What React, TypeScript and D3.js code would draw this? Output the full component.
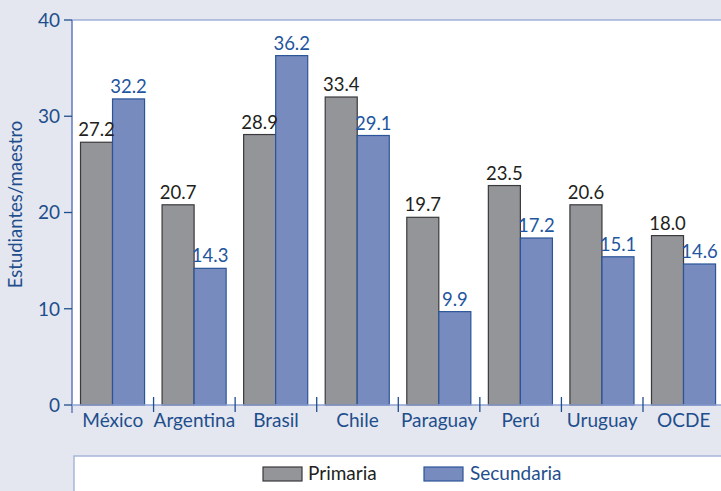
import React from "react";
import { scaleBand, scaleLinear } from "d3";

const categories = ["México", "Argentina", "Brasil", "Chile", "Paraguay", "Perú", "Uruguay", "OCDE"];
// bar heights as drawn in the picture
const primaria = [27.3, 20.8, 28.1, 32.0, 19.5, 22.8, 20.8, 17.6];
const secundaria = [31.8, 14.2, 36.3, 28.0, 9.7, 17.35, 15.4, 14.65];
// printed value labels
const primariaLabels = ["27.2", "20.7", "28.9", "33.4", "19.7", "23.5", "20.6", "18.0"];
const secundariaLabels = ["32.2", "14.3", "36.2", "29.1", "9.9", "17.2", "15.1", "14.6"];
const yTicks = [0, 10, 20, 30, 40];

const W = 721;
const H = 491;
const margin = { top: 20, left: 72, bottom: 86 };
const bandStep = 81.57;

const font = "Lato, 'Open Sans', sans-serif";
const bg = "#e4e7f0";
const axisBlue = "#1f4e8c";
const grayFill = "#939598";
const grayStroke = "#3a3a3c";
const blueFill = "#788bbf";
const blueStroke = "#2a5598";

export default function App() {
  const plotBottom = H - margin.bottom; // 405

  const x = scaleBand<string>()
    .domain(categories)
    .range([margin.left, margin.left + bandStep * categories.length])
    .paddingInner(0)
    .paddingOuter(0);

  const inner = scaleBand<string>()
    .domain(["p", "s"])
    .range([8.5, x.bandwidth() - 9]);

  const y = scaleLinear().domain([0, 40]).range([plotBottom, margin.top]);

  const series = [
    { key: "p", values: primaria, labels: primariaLabels, fill: grayFill, stroke: grayStroke, text: "#231f20" },
    { key: "s", values: secundaria, labels: secundariaLabels, fill: blueFill, stroke: blueStroke, text: "#1f56a0" },
  ];

  return (
    <svg
      width={W}
      height={H}
      style={{ position: "absolute", left: 0, top: 0, background: bg }}
      fontFamily={font}
    >
      <rect x={0} y={0} width={W} height={H} fill={bg} />
      {/* plot area */}
      <rect x={margin.left} y={margin.top} width={W - margin.left} height={plotBottom - margin.top} fill="#fff" />
      <line x1={margin.left} x2={W} y1={margin.top} y2={margin.top} stroke="#9fb0d8" strokeWidth={1.5} />

      {/* bars */}
      <g>
        {categories.map((c, i) => (
          <g key={c} transform={`translate(${x(c)},0)`}>
            {series.map((s) => (
              <rect
                key={s.key}
                x={inner(s.key)}
                y={y(s.values[i])}
                width={inner.bandwidth()}
                height={plotBottom - y(s.values[i])}
                fill={s.fill}
                stroke={s.stroke}
                strokeWidth={1.2}
              />
            ))}
            {series.map((s) => (
              <text
                key={s.key + "l"}
                x={(inner(s.key) || 0) + inner.bandwidth() / 2}
                y={y(s.values[i]) - 6}
                textAnchor="middle"
                fontSize={18.5}
                fill={s.text}
              >
                {s.labels[i]}
              </text>
            ))}
          </g>
        ))}
      </g>

      {/* y axis */}
      <line x1={margin.left} x2={margin.left} y1={margin.top} y2={plotBottom + 8} stroke="#5f7bbd" strokeWidth={1.5} />
      {yTicks.map((t) => (
        <g key={t}>
          <line x1={margin.left - 8} x2={margin.left} y1={y(t)} y2={y(t)} stroke={axisBlue} strokeWidth={1.3} />
          <text x={60} y={y(t)} dy="0.36em" textAnchor="end" fontSize={19} fill={axisBlue}>
            {t}
          </text>
        </g>
      ))}
      <text
        transform={`translate(22,${(margin.top + plotBottom) / 2 - 8}) rotate(-90)`}
        textAnchor="middle"
        fontSize={18.5}
        fill={axisBlue}
      >
        Estudiantes/maestro
      </text>

      {/* x axis */}
      <line x1={margin.left} x2={W} y1={plotBottom} y2={plotBottom} stroke="#8fa2d3" strokeWidth={1.5} />
      {categories.map((c) => (
        <g key={c}>
          {c !== categories[0] && (
            <line x1={x(c)} x2={x(c)} y1={plotBottom - 8} y2={plotBottom + 7} stroke={axisBlue} strokeWidth={1.3} />
          )}
          <text x={(x(c) || 0) + x.bandwidth() / 2} y={427} textAnchor="middle" fontSize={19} fill={axisBlue}>
            {c}
          </text>
        </g>
      ))}

      {/* legend */}
      <rect x={74} y={456} width={W} height={60} fill="#fff" stroke="#a8b6dc" strokeWidth={1.5} />
      <rect x={263} y={467} width={39} height={14} fill={grayFill} stroke={grayStroke} strokeWidth={1.2} />
      <text x={308} y={480} fontSize={19} fill="#231f20">Primaria</text>
      <rect x={424} y={467} width={39} height={14} fill={blueFill} stroke={blueStroke} strokeWidth={1.2} />
      <text x={470} y={480} fontSize={19} fill={axisBlue}>Secundaria</text>
    </svg>
  );
}
